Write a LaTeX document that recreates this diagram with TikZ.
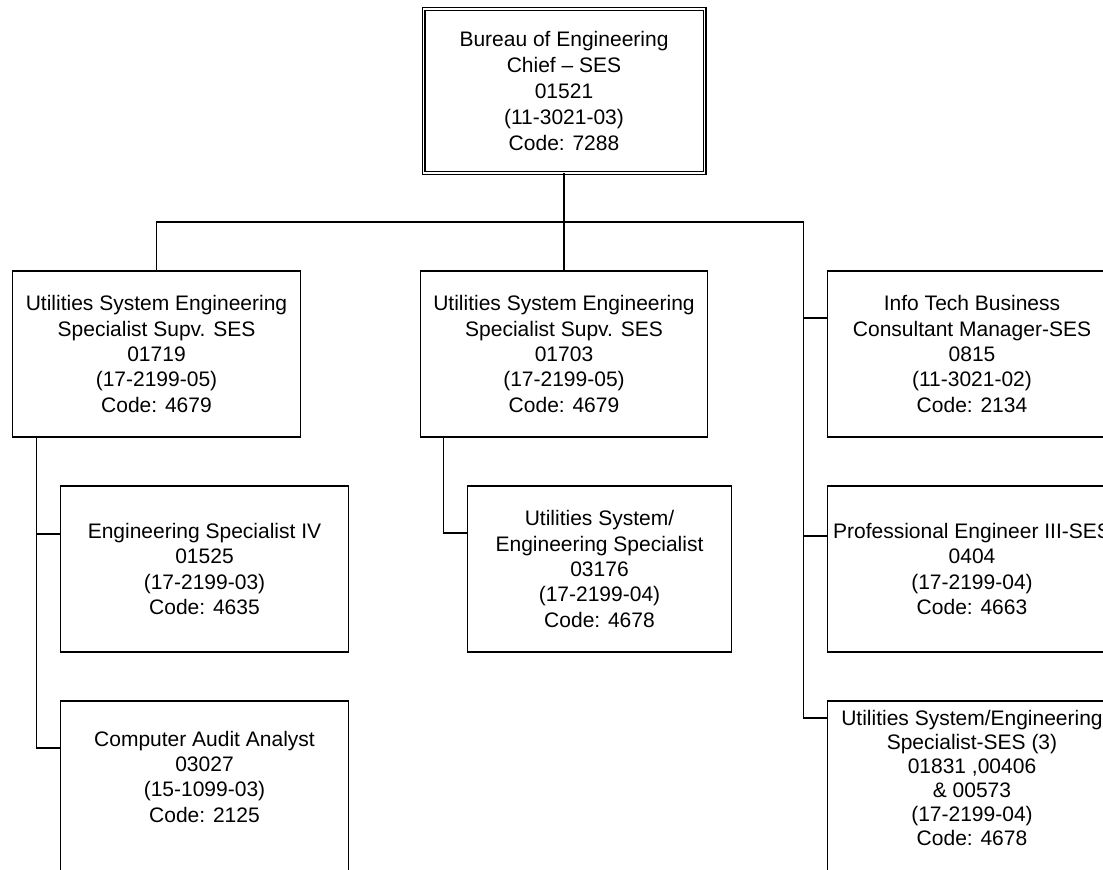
\documentclass[tikz,border=0pt]{standalone}
\usepackage{fontspec}
\setmainfont{Liberation Sans}
\usetikzlibrary{positioning}
\usetikzlibrary{calc}

\tikzset{
    post/.style={draw, rectangle, line width=1.8pt, inner sep=0pt, outer sep=0pt,
        align=center, minimum width=288pt, minimum height=166pt,
        font=\fontsize{21}{25.3}\selectfont},
    link/.style={line width=1.8pt},
}

\begin{document}
\begin{tikzpicture}[x=1pt,y=-1pt]
    \useasboundingbox (0,0) rectangle (1103,870);
    \clip (0,0) rectangle (1103,870);

    \node[post, double, double distance=1.6pt, line width=1.2pt,
        minimum width=281pt, minimum height=164pt,
        font=\fontsize{21}{25.8}\selectfont] (chief) at (564,91)
        {Bureau of Engineering\\Chief – SES\\01521\\(11-3021-03)\\Code: 7288};

    \node[post, below=98pt of chief, minimum width=287pt] (supvB)
        {Utilities System Engineering\\Specialist Supv. SES\\01703\\(17-2199-05)\\Code: 4679};
    \node[post, left=120pt of supvB] (supvA)
        {Utilities System Engineering\\Specialist Supv. SES\\01719\\(17-2199-05)\\Code: 4679};
    \node[post, right=120pt of supvB, minimum width=289pt] (itmgr)
        {Info Tech Business\\Consultant Manager-SES\\0815\\(11-3021-02)\\Code: 2134};

    \node[post, anchor=north west] (engIV) at ($(supvA.south west)+(48,49)$)
        {Engineering Specialist IV\\01525\\(17-2199-03)\\Code: 4635};
    \node[post, below=49pt of engIV, minimum height=0pt, inner ysep=30pt, text depth=200pt] (auditor)
        {Computer Audit Analyst\\03027\\(15-1099-03)\\Code: 2125};

    \node[post, anchor=north west, minimum width=264pt] (usesB) at ($(supvB.south west)+(47,49)$)
        {Utilities System/\\Engineering Specialist\\03176\\(17-2199-04)\\Code: 4678};

    \node[post, below=49pt of itmgr, minimum width=289pt] (profeng)
        {Professional Engineer III-SES\\0404\\(17-2199-04)\\Code: 4663};
    \node[post, below=49pt of profeng, minimum width=289pt, minimum height=0pt,
        inner ysep=9pt, text depth=200pt, font=\fontsize{21}{24}\selectfont] (multi)
        {Utilities System/Engineering\\Specialist-SES (3)\\01831 ,00406\\\& 00573\\(17-2199-04)\\Code: 4678};

    % top level
    \coordinate (bus) at ($(chief.south)+(0,49)$);
    \coordinate (rbus) at ($(itmgr.west |- bus)+(-24,0)$);
    \draw[link] (chief.south) -- (supvB.north);
    \draw[link] (supvA.north) |- (rbus) |- ($(multi.north west)+(0,17)$);
    \coordinate (itb) at ($(itmgr.north west)+(0,47)$);
    \coordinate (pfb) at ($(profeng.north west)+(0,50)$);
    \draw[link] (rbus |- itb) -- (itb);
    \draw[link] (rbus |- pfb) -- (pfb);

    % left branch
    \coordinate (lt) at ($(supvA.south west)+(24,0)$);
    \coordinate (engb) at ($(engIV.north west)+(0,48)$);
    \draw[link] (lt) |- ($(auditor.north west)+(0,47)$);
    \draw[link] (lt |- engb) -- (engb);

    % middle branch
    \coordinate (mt) at ($(supvB.south west)+(23,0)$);
    \draw[link] (mt) |- ($(usesB.north west)+(0,47)$);
\end{tikzpicture}
\end{document}
